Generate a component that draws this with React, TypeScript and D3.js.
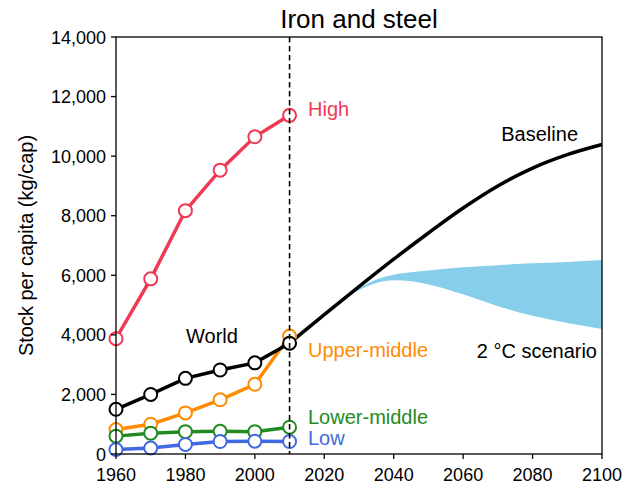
import React from "react";
import * as d3 from "d3";

const years = [1960, 1970, 1980, 1990, 2000, 2010];
const highValues = [3870, 5880, 8170, 9530, 10650, 11370];
const upperMiddleValues = [820, 1000, 1380, 1820, 2340, 3960];
const lowerMiddleValues = [600, 700, 750, 760, 750, 900];
const lowValues = [150, 200, 320, 420, 430, 420];
const worldValues = [1500, 2000, 2540, 2820, 3060, 3720];

const baselineYears = [2010, 2020, 2030, 2040, 2050, 2060, 2070, 2080, 2090, 2100];
const baselineValues = [3720, 4680, 5620, 6540, 7420, 8260, 9000, 9600, 10050, 10390];

const bandYears = [2027, 2030, 2035, 2040, 2045, 2050, 2060, 2070, 2080, 2090, 2100];
const bandUpper = [5320, 5560, 5860, 6020, 6100, 6160, 6270, 6340, 6400, 6450, 6510];
const bandLower = [5320, 5500, 5740, 5830, 5800, 5690, 5360, 4960, 4640, 4400, 4200];

const xTicks = [1960, 1980, 2000, 2020, 2040, 2060, 2080, 2100];
const yTicks = [0, 2000, 4000, 6000, 8000, 10000, 12000, 14000];

const W = 623, H = 487;
const L = 116, R = 602, T = 37, B = 454;
const FONT = "'Liberation Sans', Arial, sans-serif";

const series = [
  { name: "High", values: highValues, color: "#ee3a55" },
  { name: "Upper-middle", values: upperMiddleValues, color: "#ff8c00" },
  { name: "Lower-middle", values: lowerMiddleValues, color: "#228b22" },
  { name: "Low", values: lowValues, color: "#4169e1" },
  { name: "World", values: worldValues, color: "#000000" },
];

export default function App() {
  const x = d3.scaleLinear().domain([1960, 2100]).range([L, R]);
  const y = d3.scaleLinear().domain([0, 14000]).range([B, T]);
  const fmt = d3.format(",");

  const line = d3
    .line<[number, number]>()
    .x((d) => x(d[0]))
    .y((d) => y(d[1]));
  const smooth = d3
    .line<[number, number]>()
    .x((d) => x(d[0]))
    .y((d) => y(d[1]))
    .curve(d3.curveMonotoneX);
  const area = d3
    .area<number>()
    .x((_, i) => x(bandYears[i]))
    .y0((_, i) => y(bandLower[i]))
    .y1((_, i) => y(bandUpper[i]))
    .curve(d3.curveMonotoneX);

  const baselinePts = baselineYears.map((yr, i) => [yr, baselineValues[i]] as [number, number]);

  return (
    <svg
      width={W}
      height={H}
      style={{ position: "absolute", left: 0, top: 0, background: "#fff" }}
      fontFamily={FONT}
    >
      <rect x={0} y={0} width={W} height={H} fill="#fff" />
      <text x={(L + R) / 2} y={27.5} textAnchor="middle" fontSize={26} fill="#000">
        Iron and steel
      </text>

      {/* band */}
      <path d={area(bandUpper) || ""} fill="#87ceeb" stroke="none" />
      {/* baseline */}
      <path d={smooth(baselinePts) || ""} fill="none" stroke="#000" strokeWidth={3.5} />

      {series.map((s) => {
        const pts = years.map((yr, i) => [yr, s.values[i]] as [number, number]);
        return (
          <g key={s.name}>
            <path d={line(pts) || ""} fill="none" stroke={s.color} strokeWidth={3.5} />
            {pts.map((p, i) => (
              <circle
                key={i}
                cx={x(p[0])}
                cy={y(p[1])}
                r={6.5}
                fill="#fff"
                stroke={s.color}
                strokeWidth={2}
              />
            ))}
          </g>
        );
      })}

      {/* dashed 2010 line */}
      <line
        x1={x(2010)}
        x2={x(2010)}
        y1={T}
        y2={B}
        stroke="#000"
        strokeWidth={1.6}
        strokeDasharray="5.5,3.5"
      />

      {/* labels */}
      <text x={308} y={116} fontSize={20} fill="#ee3a55">High</text>
      <text x={308} y={357} fontSize={20} fill="#ff8c00">Upper-middle</text>
      <text x={308} y={424} fontSize={20} fill="#228b22">Lower-middle</text>
      <text x={308} y={445} fontSize={20} fill="#4169e1">Low</text>
      <text x={186} y={343} fontSize={20} fill="#000">World</text>
      <text x={578} y={141} fontSize={20} fill="#000" textAnchor="end">Baseline</text>
      <text x={597} y={358} fontSize={20} fill="#000" textAnchor="end">2 °C scenario</text>

      {/* frame */}
      <rect x={L} y={T} width={R - L} height={B - T} fill="none" stroke="#000" strokeWidth={1.3} />

      {/* x axis ticks */}
      {xTicks.map((t) => (
        <g key={t}>
          <line x1={x(t)} x2={x(t)} y1={B} y2={B + 5} stroke="#000" strokeWidth={1.3} />
          <text x={x(t)} y={B + 27} textAnchor="middle" fontSize={18} fill="#000">
            {t}
          </text>
        </g>
      ))}
      {/* y axis ticks */}
      {yTicks.map((t) => (
        <g key={t}>
          <line x1={L - 5} x2={L} y1={y(t)} y2={y(t)} stroke="#000" strokeWidth={1.3} />
          <text x={L - 10} y={y(t) + 6.5} textAnchor="end" fontSize={18} fill="#000">
            {fmt(t)}
          </text>
        </g>
      ))}
      <text
        transform={`translate(33, ${(T + B) / 2}) rotate(-90)`}
        textAnchor="middle"
        fontSize={20}
        fill="#000"
      >
        Stock per capita (kg/cap)
      </text>
    </svg>
  );
}
